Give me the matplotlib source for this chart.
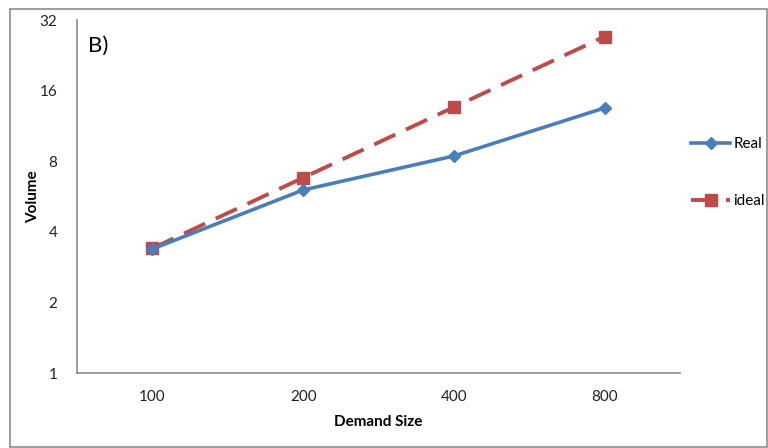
import matplotlib
matplotlib.use("Agg")
import matplotlib.pyplot as plt
from matplotlib.patches import Rectangle
from matplotlib.ticker import FixedLocator, NullLocator

plt.rcParams['font.family'] = ['Lato', 'DejaVu Sans']

demand = ['100', '200', '400', '800']
real = [3.38, 6.03, 8.42, 13.5]
ideal = [3.4, 6.8, 13.6, 27.2]
yticks = [1, 2, 4, 8, 16, 32]

fig = plt.figure(figsize=(7.68, 4.48), dpi=100)
ax = fig.add_axes([77/768, 1-373/448, (680-77)/768, (373-20)/448])

x = list(range(len(demand)))
ax.plot(x, real, color='#4a7ebb', linewidth=2.6, marker='D', markersize=6.5,
        label='Real', zorder=3)
ax.plot(x, ideal, color='#be4b48', linewidth=2.8, linestyle=(0, (6, 3)),
        marker='s', markersize=8.5, label='ideal', zorder=2)

ax.set_yscale('log', base=2)
ax.set_ylim(1, 32)
ax.set_xlim(-0.5, 3.5)
ax.yaxis.set_major_locator(FixedLocator(yticks))
ax.yaxis.set_minor_locator(NullLocator())
ax.set_yticklabels([str(v) for v in yticks])
ax.set_xticks(x)
ax.set_xticklabels(demand)
ax.tick_params(length=0, labelsize=11, colors='#222222')
ax.tick_params(axis='y', pad=14)
ax.tick_params(axis='x', pad=12)

for s in ['top', 'right']:
    ax.spines[s].set_visible(False)
for s in ['left', 'bottom']:
    ax.spines[s].set_color('#8c8c8c')
    ax.spines[s].set_linewidth(1.2)

ax.set_xlabel('Demand Size', fontweight='bold', fontsize=11, labelpad=8)
ax.set_ylabel('Volume', fontweight='bold', fontsize=11)
ax.yaxis.set_label_coords(-0.062, 0.5)

ax.text(0.018, 0.955, 'B)', transform=ax.transAxes, fontsize=16, va='top', ha='left')

ax.legend(loc='upper left', bbox_to_anchor=(0.995, 0.707), frameon=False,
          fontsize=11, handlelength=2.6, handletextpad=0.2, labelspacing=2.8)

fig.patches.append(Rectangle((10/768, 0.002), 757/768, 1-9/448-0.002,
                             transform=fig.transFigure, fill=False,
                             edgecolor='#8c8c8c', linewidth=1.2))

fig.savefig('out.png', dpi=100)
